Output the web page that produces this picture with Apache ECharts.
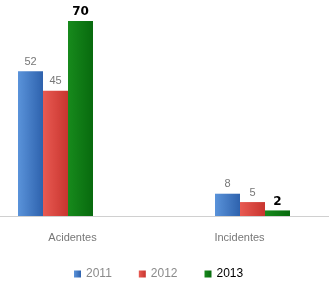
<!DOCTYPE html>
<html>
<head>
    <meta charset="utf-8">
    <title>Acidentes</title>
    <script src="https://cdn.jsdelivr.net/npm/echarts@6/dist/echarts.min.js"></script>
    <style type="text/css">
    html,body{margin:0;padding:0;background:#fff;overflow:hidden;}
    #main{position:absolute;left:-43px;top:0;width:394px;height:287px;}
    </style>
</head>
<body>
    <div id="main"></div>
    <script>
    var categories = ['Acidentes', 'Incidentes'];
    var years = ['2011', '2012', '2013'];
    var v2011 = [52, 8];
    var v2012 = [45, 5];
    var v2013 = [70, 2];

    var colors = ['#3b78c8', '#d8423c', '#0b7a12'];

    function grad(c1, c2){
        return new echarts.graphic.LinearGradient(0, 0, 1, 0, [
            {offset: 0, color: c1}, {offset: 1, color: c2}
        ]);
    }

    var greyLabel = {show: true, position: 'top', distance: 4, color: '#777',
        fontFamily: 'Liberation Sans', fontSize: 11};
    var boldLabel = {show: true, position: 'top', distance: 3, color: '#000',
        fontFamily: 'DejaVu Sans', fontSize: 12, fontWeight: 'bold'};

    // the div is shifted 43px left, so legend/labels are in div coords
    var chart = echarts.init(document.getElementById('main'));
    var option = {
        backgroundColor: '#fff',
        animation: false,
        grid: {left: 0, right: 0, top: 21, bottom: 71},
        legend: {
            bottom: 2,
            left: 112,
            itemWidth: 7,
            itemHeight: 7,
            itemGap: 27,
            icon: 'rect',
            textStyle: {fontFamily: 'Liberation Sans', fontSize: 12, color: '#8a8a8a'},
            data: [
                {name: years[0]},
                {name: years[1]},
                {name: years[2], textStyle: {color: '#000', fontSize: 12}}
            ]
        },
        xAxis: {
            type: 'category',
            data: categories,
            axisLine: {lineStyle: {color: '#d0d0d0', width: 1}},
            axisTick: {show: false},
            axisLabel: {
                margin: 16,
                color: '#777',
                fontFamily: 'Liberation Sans',
                fontSize: 11,
                formatter: function(v, i){
                    return i == 0 ? '{a|' + v + '}' : '{b|' + v + '}';
                },
                rich: {
                    a: {padding: [0, 0, 0, 34], color: '#777', fontSize: 11},
                    b: {padding: [0, 26, 0, 0], color: '#777', fontSize: 11}
                }
            }
        },
        yAxis: {
            type: 'value',
            min: 0,
            max: 70,
            show: false,
            splitLine: {show: false}
        },
        series: [
            {name: years[0], type: 'bar', data: v2011, barWidth: 25, barGap: '0%',
             color: colors[0],
             itemStyle: {color: grad('#5a93da', '#2e62ad')}, label: greyLabel},
            {name: years[1], type: 'bar', data: v2012, barWidth: 25, barGap: '0%',
             color: colors[1],
             itemStyle: {color: grad('#e85a52', '#c8352f')}, label: greyLabel},
            {name: years[2], type: 'bar', data: v2013, barWidth: 25, barGap: '0%',
             color: colors[2],
             itemStyle: {color: grad('#178a1c', '#086a0e')}, label: boldLabel}
        ]
    };
    chart.setOption(option);
    </script>
</body>
</html>
